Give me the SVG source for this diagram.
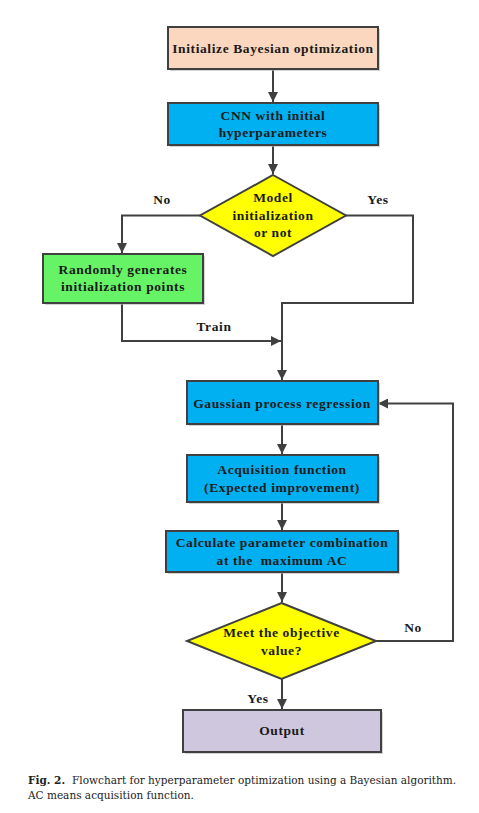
<svg xmlns="http://www.w3.org/2000/svg" width="479" height="813" viewBox="0 0 479 813">
<style>
.box{stroke:#404040;stroke-width:2}
.shadow{fill:#b8b8b8;opacity:0.6}
.t{font-family:"Liberation Serif","Times New Roman",serif;font-weight:bold;font-size:13.5px;letter-spacing:0.6px;fill:#1a1a1a;text-anchor:middle}
.lbl{font-family:"Liberation Serif","Times New Roman",serif;font-weight:bold;font-size:13.5px;letter-spacing:0.6px;fill:#1a1a1a;text-anchor:middle}
.c{fill:none;stroke:#404040;stroke-width:2}
.cap{font-family:"DejaVu Serif","Liberation Serif",serif;font-size:10.5px;fill:#222}
</style>
<defs>
<marker id="arr" viewBox="0 0 10 10" refX="10" refY="5" markerWidth="10" markerHeight="10" markerUnits="userSpaceOnUse" orient="auto">
<path d="M0,0 L10,5 L0,10 z" fill="#404040"/>
</marker>
</defs>
<rect width="479" height="813" fill="#fff"/>
<g id="connectors">
<path class="c" d="M273,69 V102" marker-end="url(#arr)"/>
<path class="c" d="M273,145 V174" marker-end="url(#arr)"/>
<path class="c" d="M200,215.5 H122 V253" marker-end="url(#arr)"/>
<path class="c" d="M346,215.5 H413 V303 H282 V380" marker-end="url(#arr)"/>
<path class="c" d="M122,303 V341 H281" marker-end="url(#arr)"/>
<path class="c" d="M282,424 V454" marker-end="url(#arr)"/>
<path class="c" d="M282,502 V530" marker-end="url(#arr)"/>
<path class="c" d="M282,572 V602" marker-end="url(#arr)"/>
<path class="c" d="M376,641 H453 V403.5 H378" marker-end="url(#arr)"/>
<path class="c" d="M282,679 V709" marker-end="url(#arr)"/>
</g>
<g id="n1">
<rect class="shadow" x="170" y="29" width="210" height="42"/>
<rect class="box" x="168" y="27" width="210" height="42" fill="#FAD7BE"/>
<text class="t" x="273" y="52.5">Initialize Bayesian optimization</text>
</g>
<g id="n2">
<rect class="shadow" x="170" y="105" width="210" height="42"/>
<rect class="box" x="168" y="103" width="210" height="42" fill="#00B0F0"/>
<text class="t" x="273" y="120">CNN with initial</text>
<text class="t" x="273" y="136.5">hyperparameters</text>
</g>
<g id="n3">
<polygon class="box" points="273,175 346,215.5 273,256 200,215.5" fill="#FFFF00"/>
<text class="t" x="273" y="202">Model</text>
<text class="t" x="273" y="219.5">initialization</text>
<text class="t" x="273" y="237">or not</text>
</g>
<g id="n4">
<rect class="shadow" x="45" y="256" width="160" height="49"/>
<rect class="box" x="43" y="254" width="160" height="49" fill="#66F366"/>
<text class="t" x="123" y="273.5">Randomly generates</text>
<text class="t" x="123" y="291">initialization points</text>
</g>
<g id="n5">
<rect class="shadow" x="189" y="383" width="191" height="43"/>
<rect class="box" x="187" y="381" width="191" height="43" fill="#00B0F0"/>
<text class="t" x="282" y="408">Gaussian process regression</text>
</g>
<g id="n6">
<rect class="shadow" x="189" y="457" width="191" height="47"/>
<rect class="box" x="187" y="455" width="191" height="47" fill="#00B0F0"/>
<text class="t" x="282" y="474">Acquisition function</text>
<text class="t" x="282" y="492">(Expected improvement)</text>
</g>
<g id="n7">
<rect class="shadow" x="168" y="533" width="232" height="41"/>
<rect class="box" x="166" y="531" width="232" height="41" fill="#00B0F0"/>
<text class="t" x="282" y="546.5">Calculate parameter combination</text>
<text class="t" x="282" y="565" xml:space="preserve">at the  maximum AC</text>
</g>
<g id="n8">
<polygon class="box" points="281.5,603 376,641 281.5,679 187,641" fill="#FFFF00"/>
<text class="t" x="281.5" y="636.5">Meet the objective</text>
<text class="t" x="281.5" y="654.5">value?</text>
</g>
<g id="n9">
<rect class="shadow" x="185" y="712" width="198" height="42"/>
<rect class="box" x="183" y="710" width="198" height="42" fill="#CFC7DD"/>
<text class="t" x="282" y="735">Output</text>
</g>
<g id="labels">
<text class="lbl" x="162" y="203.5">No</text>
<text class="lbl" x="378" y="203.5">Yes</text>
<text class="lbl" x="214" y="331">Train</text>
<text class="lbl" x="413" y="631.5">No</text>
<text class="lbl" x="258" y="702.5">Yes</text>
</g>
<g id="caption">
<text class="cap" x="28" y="784"><tspan font-weight="bold">Fig. 2.</tspan><tspan dx="7">Flowchart for hyperparameter optimization using a Bayesian algorithm.</tspan></text>
<text class="cap" x="28" y="799">AC means acquisition function.</text>
</g>
</svg>
